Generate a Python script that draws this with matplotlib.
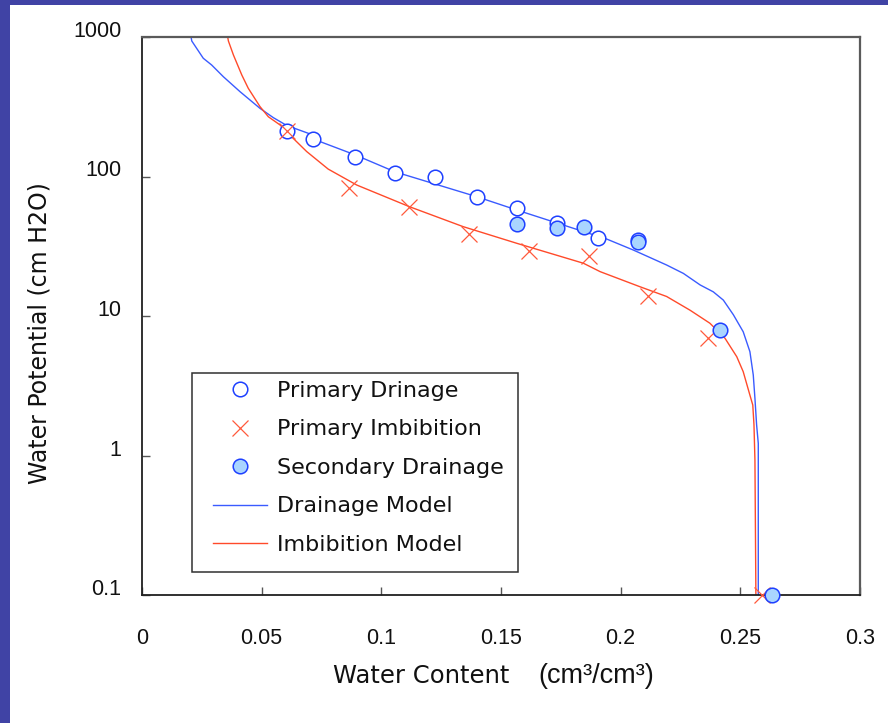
import matplotlib
matplotlib.use("Agg")
import matplotlib.pyplot as plt
from matplotlib.patches import Rectangle
from matplotlib.lines import Line2D

# Measured data
primary_drainage_wc = [0.0607, 0.0716, 0.0891, 0.1057, 0.1224, 0.1401, 0.1568, 0.1735, 0.1907, 0.2074]
primary_drainage_psi = [213, 186, 139, 106, 99.6, 71.7, 59.8, 46.2, 36.1, 35.1]

primary_imbibition_wc = [0.0607, 0.0866, 0.1117, 0.1366, 0.1616, 0.1866, 0.2116, 0.2366, 0.259]
primary_imbibition_psi = [213, 82.3, 60.8, 38.5, 29.4, 26.9, 13.9, 6.92, 0.1]

secondary_drainage_wc = [0.1568, 0.1733, 0.1848, 0.2074, 0.2415, 0.2634]
secondary_drainage_psi = [45.4, 43.0, 43.2, 34.1, 7.94, 0.1]

# Fitted retention models
drainage_model_wc = [0.0205, 0.0208, 0.0256, 0.0291, 0.0340, 0.0410, 0.0493, 0.0549, 0.0605,
                     0.0695, 0.0714, 0.0890, 0.1057, 0.1398, 0.1566, 0.1942, 0.2053, 0.2192,
                     0.2262, 0.2332, 0.2387, 0.2429, 0.2471, 0.2512, 0.2540, 0.2554, 0.2561,
                     0.2568, 0.2575, 0.2575]
drainage_model_psi = [1000, 936, 704, 630, 519, 405, 308, 264, 232,
                      204, 186, 143, 108, 71.7, 57.5, 35.6, 29.7, 23.2,
                      20.2, 16.7, 14.9, 13.0, 10.2, 7.71, 5.55, 3.78, 2.57,
                      1.66, 1.22, 0.1]

imbibition_model_wc = [0.0358, 0.0361, 0.0382, 0.0417, 0.0444, 0.0493, 0.0528, 0.0577, 0.0618,
                       0.0688, 0.0778, 0.0897, 0.1117, 0.1342, 0.1566, 0.1844, 0.1914, 0.2081,
                       0.2192, 0.2290, 0.2373, 0.2436, 0.2485, 0.2512, 0.2540, 0.2552, 0.2557,
                       0.2561, 0.2565]
imbibition_model_psi = [1000, 936, 743, 534, 429, 317, 268, 234, 198,
                        151, 113, 86.9, 60.8, 43.7, 33.2, 23.9, 20.8, 16.2,
                        13.8, 11.0, 8.87, 6.92, 5.11, 3.99, 2.71, 2.30, 1.66,
                        0.929, 0.1]

x_ticks = [0, 0.05, 0.1, 0.15, 0.2, 0.25, 0.3]
x_tick_labels = ["0", "0.05", "0.1", "0.15", "0.2", "0.25", "0.3"]
y_ticks = [0.1, 1, 10, 100, 1000]
y_tick_labels = ["0.1", "1", "10", "100", "1000"]

legend_labels = ["Primary Drinage", "Primary Imbibition", "Secondary Drainage",
                 "Drainage Model", "Imbibition Model"]

W, H = 888, 723
fig = plt.figure(figsize=(W / 100, H / 100), dpi=100)
fig.patch.set_facecolor("white")

# slide frame bars
band = "#4043A5"
fig.patches.append(Rectangle((0, 1 - 5 / H), 1, 5 / H, transform=fig.transFigure,
                             facecolor=band, edgecolor="none", zorder=0))
fig.patches.append(Rectangle((0, 0), 10 / W, 1, transform=fig.transFigure,
                             facecolor=band, edgecolor="none", zorder=0))

ax = fig.add_axes([142 / W, 1 - 595 / H, 718 / W, 558 / H])
ax.set_yscale("log")
ax.set_xlim(0, 0.3)
ax.set_ylim(0.1, 1000)

blue_line = "#3A5BFF"
red_line = "#FF4A2A"
circle_edge = "#1E40FF"
fill_blue = "#A9D5FF"
cross_red = "#FF5A3C"

ax.plot(drainage_model_wc, drainage_model_psi, color=blue_line, lw=1.0, zorder=2)
ax.plot(imbibition_model_wc, imbibition_model_psi, color=red_line, lw=1.0, zorder=2)

ax.plot(primary_drainage_wc, primary_drainage_psi, ls="none", marker="o", ms=10.5,
        mfc="white", mec=circle_edge, mew=1.1, zorder=3, clip_on=False)
ax.plot(primary_imbibition_wc, primary_imbibition_psi, ls="none", marker="x", ms=11,
        mec=cross_red, mew=0.9, zorder=4, clip_on=False)
ax.plot(secondary_drainage_wc, secondary_drainage_psi, ls="none", marker="o", ms=10.5,
        mfc=fill_blue, mec=circle_edge, mew=1.1, zorder=5, clip_on=False)

# spines and ticks
for side in ("left", "bottom"):
    ax.spines[side].set_color("#202020")
    ax.spines[side].set_linewidth(1.3)
for side in ("top", "right"):
    ax.spines[side].set_color("#5a5a5a")
    ax.spines[side].set_linewidth(1.6)

ax.set_xticks(x_ticks)
ax.set_xticklabels(x_tick_labels)
ax.set_yticks(y_ticks)
ax.set_yticklabels(y_tick_labels)
ax.minorticks_off()
ax.tick_params(axis="both", direction="in", length=6, width=1.0, color="#555555",
               labelcolor="#111111")
ax.tick_params(axis="x", pad=24)
ax.tick_params(axis="y", pad=15)
for lab in ax.get_xticklabels() + ax.get_yticklabels():
    lab.set_fontfamily("Liberation Sans")
    lab.set_fontsize(15.5)
for lab in ax.get_yticklabels():
    lab.set_verticalalignment("baseline")

# axis titles
fig.text(333 / W, 1 - 683 / H, "Water Content", fontsize=17.5, family="DejaVu Sans",
         color="#111111", ha="left", va="baseline")
fig.text(538 / W, 1 - 683 / H, "(cm\u00b3/cm\u00b3)", fontsize=19.5, family="Liberation Sans",
         color="#111111", ha="left", va="baseline")
fig.text(40 / W, 1 - 333 / H, "Water Potential (cm H2O)", fontsize=17, family="DejaVu Sans",
         color="#111111", rotation=90, ha="center", va="center")

# legend
handles = [
    Line2D([], [], ls="none", marker="o", ms=10.5, mfc="white", mec=circle_edge, mew=1.1),
    Line2D([], [], ls="none", marker="x", ms=11, mec=cross_red, mew=0.9),
    Line2D([], [], ls="none", marker="o", ms=10.5, mfc=fill_blue, mec=circle_edge, mew=1.1),
    Line2D([], [], color=blue_line, lw=1.0),
    Line2D([], [], color=red_line, lw=1.0),
]
leg = ax.legend(handles, legend_labels, loc="upper left",
                bbox_to_anchor=(213 / W, 1 - 381 / H), bbox_transform=fig.transFigure,
                frameon=False, borderpad=0, borderaxespad=0, handlelength=2.45,
                handletextpad=0.42, labelspacing=0.83,
                prop={"family": "DejaVu Sans", "size": 16})
for t in leg.get_texts():
    t.set_color("#111111")
fig.patches.append(Rectangle((192 / W, 1 - 572 / H), 326 / W, 199 / H,
                             transform=fig.transFigure, facecolor="none",
                             edgecolor="#303030", lw=1.1, zorder=6))

fig.savefig("out.png", dpi=100, facecolor="white")
